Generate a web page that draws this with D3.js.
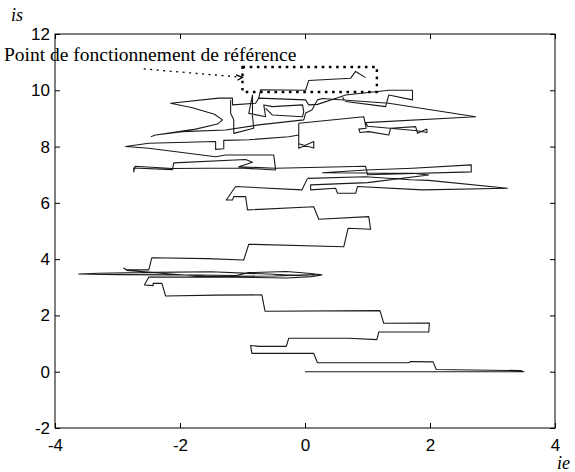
<!DOCTYPE html>
<html>
<head>
<meta charset="utf-8">
<script src="https://cdn.jsdelivr.net/npm/d3@7"></script>
<style>
	body { margin: 0; background: #fff; }
	svg { display: block; }
	.tick text { font-family: "Liberation Sans", Arial, sans-serif; font-size: 17px; fill: #000; }
	.tick line { stroke: #000; }
	.domain { stroke: none; }
</style>
</head>
<body>
<div id="chart"></div>
<script>
// axis ticks
var xTicks = [-4, -2, 0, 2, 4];
var yTicks = [-2, 0, 2, 4, 6, 8, 10, 12];

// trajectory (ie, is), piece by piece
var trajBottom = [
	[0, 0], [3.5, 0], [3.45, 0.04], [2.1, 0.08], [2.05, 0.35], [1.69, 0.36], [1.66, 0.32], [0.2, 0.32],
	[0.14, 0.65], [-0.85, 0.65], [-0.87, 0.93], [-0.73, 0.9], [-0.3, 0.9], [-0.26, 1.19], [0.7, 1.19],
	[1.15, 1.14], [1.18, 1.41], [1.98, 1.41], [1.99, 1.73], [1.26, 1.72], [1.2, 2.17], [-0.64, 2.15],
	[-0.69, 2.73], [-1.43, 2.72], [-2.23, 2.69], [-2.29, 3.14], [-2.43, 3.14], [-2.43, 3.06], [-2.57, 3.08]
];
var trajBundle = [
	[-2.57, 3.08], [-2.5, 3.36], [-1.2, 3.36], [-0.3, 3.33], [0.1, 3.38], [0.27, 3.44], [0.05, 3.5],
	[-0.3, 3.56], [-0.9, 3.52], [-1.1, 3.42], [-2.0, 3.44], [-3.0, 3.45], [-3.62, 3.47], [-3.3, 3.5],
	[-2.4, 3.53], [-1.5, 3.55], [-0.6, 3.47], [-0.1, 3.42], [0.15, 3.45], [-0.5, 3.4], [-1.6, 3.38],
	[-2.2, 3.48], [-2.85, 3.6], [-2.9, 3.68], [-2.85, 3.62], [-2.5, 3.62], [-2.45, 4.05], [-1.57, 4.02],
	[-0.98, 3.97], [-0.9, 4.53], [0.62, 4.44], [0.69, 5.1], [1.05, 5.06], [1.02, 5.51], [0.22, 5.42],
	[0.14, 5.86], [-0.92, 5.75], [-0.95, 6.22], [-1.14, 6.22], [-1.16, 6.1], [-1.26, 6.1], [-1.11, 6.58],
	[-0.05, 6.46], [0.04, 6.87]
];
var trajMiddle = [
	[0.04, 6.87], [0.97, 6.93], [1.69, 6.82], [1.98, 6.8], [3.24, 6.52], [1.88, 6.46], [0.84, 6.58],
	[0.81, 6.34], [0.52, 6.34], [0.49, 6.52], [0.09, 6.46], [0.09, 6.64], [1.0, 6.72], [1.98, 6.99],
	[1.72, 7.05], [0.28, 7.07], [0.97, 7.17], [1.72, 7.23], [2.66, 7.35], [2.66, 7.1], [1.0, 7.0],
	[0.97, 7.3], [-0.47, 7.23], [-1.06, 7.28], [-0.84, 7.44], [-0.95, 7.54], [-2.1, 7.42], [-2.12, 7.18],
	[-2.74, 7.24], [-2.74, 7.1], [-2.72, 7.3], [-2.12, 7.22], [-1.06, 7.24], [-0.47, 7.17]
];
var trajLeft = [
	[-0.47, 7.17], [-0.5, 7.7], [-1.27, 7.7], [-1.43, 7.64], [-2.5, 7.94], [-2.87, 8.0], [-2.5, 8.12],
	[-1.43, 8.18], [-1.43, 7.9], [-1.3, 7.92], [-1.3, 8.22], [-0.9, 8.24], [-0.26, 8.35], [-0.1, 8.41],
	[-0.1, 7.94], [0.14, 8.18], [0.14, 7.95], [-0.1, 8.1], [-0.1, 8.83]
];
var trajUpper = [
	[-0.1, 8.83], [0.94, 9.06], [0.98, 8.65], [0.86, 8.62], [0.88, 8.5], [1.02, 8.53], [1.34, 8.41],
	[1.37, 8.65], [1.77, 8.71], [1.8, 8.47], [1.95, 8.62], [1.95, 8.5], [1.8, 8.56], [1.0, 8.72],
	[0.97, 8.85], [2.73, 9.06], [1.34, 9.54], [0.28, 9.71], [0.2, 9.66], [0.11, 9.3], [0.01, 9.19],
	[-0.02, 8.95], [-0.74, 8.77], [-1.27, 8.59], [-1.96, 8.53], [-2.39, 8.41], [-2.46, 8.36], [-2.39, 8.41],
	[-1.75, 8.62], [-1.4, 8.8], [-1.32, 8.95], [-1.45, 9.15], [-1.8, 9.38], [-2.15, 9.54], [-1.38, 9.72],
	[-1.16, 9.72], [-1.16, 9.48], [-0.79, 9.54], [-0.74, 9.72], [0.01, 9.66], [0.06, 9.48], [0.2, 9.5],
	[0.57, 9.77], [0.65, 9.83], [1.34, 10.0], [1.72, 10.0], [1.72, 9.66], [1.34, 9.83], [1.29, 9.42],
	[0.65, 9.6], [0.6, 9.75]
];
var trajInner = [
	[-1.19, 9.66], [-1.19, 9.18], [-1.14, 8.95], [-1.14, 8.47], [-0.82, 8.65], [-0.84, 9.06], [-0.84, 9.83],
	[-0.9, 9.18], [-0.63, 9.06], [-0.66, 9.48], [-0.52, 9.42], [-0.04, 9.48], [-0.02, 9.24], [-0.04, 9.06],
	[-0.52, 9.12], [-0.63, 9.36]
];
var trajFinal = [
	[-0.74, 9.72], [-0.71, 10.02], [0.01, 10.0], [0.06, 10.35], [0.73, 10.43], [0.81, 10.67], [0.97, 10.45]
];
var trajPieces = [trajBottom, trajBundle, trajMiddle, trajLeft, trajUpper, trajInner, trajFinal];

// reference operating point box and arrow
var refBoxIe = [-1.0, 1.15];
var refBoxIs = [9.94, 10.83];
var arrowIe = [-2.58, -1.0];
var arrowIs = [10.76, 10.46];
var annotation = "Point de fonctionnement de référence";

var W = 575, H = 472;
var margin = {top: 34, right: 20, bottom: 44, left: 55};

var svg = d3.select("#chart").append("svg")
	.attr("width", W)
	.attr("height", H);

var x = d3.scaleLinear().domain([-4, 4]).range([margin.left, W - margin.right]);
var y = d3.scaleLinear().domain([-2, 12]).range([H - margin.bottom, margin.top]);

var fmt = function(d) { return d < 0 ? "-" + Math.abs(d) : String(d); };

// axes, ticks inward like matlab
svg.append("g")
	.attr("transform", "translate(0," + y(-2) + ")")
	.call(d3.axisBottom(x).tickValues(xTicks).tickSizeInner(-5).tickSizeOuter(0).tickPadding(11).tickFormat(fmt));
svg.append("g")
	.attr("transform", "translate(0," + y(12) + ")")
	.call(d3.axisTop(x).tickValues(xTicks).tickSizeInner(-5).tickSizeOuter(0).tickFormat(""));
svg.append("g")
	.attr("transform", "translate(" + x(-4) + ",0)")
	.call(d3.axisLeft(y).tickValues(yTicks).tickSizeInner(-5).tickSizeOuter(0).tickPadding(5).tickFormat(fmt));
svg.append("g")
	.attr("transform", "translate(" + x(4) + ",0)")
	.call(d3.axisRight(y).tickValues(yTicks).tickSizeInner(-5).tickSizeOuter(0).tickFormat(""));

svg.append("rect")
	.attr("x", x(-4)).attr("y", y(12))
	.attr("width", x(4) - x(-4)).attr("height", y(-2) - y(12))
	.attr("fill", "none").attr("stroke", "#000").attr("stroke-width", 1);

// trajectory
var line = d3.line()
	.x(function(d) { return x(d[0]); })
	.y(function(d) { return y(d[1]); });

svg.selectAll("path.traj")
	.data(trajPieces)
	.enter().append("path")
	.attr("class", "traj")
	.attr("d", line)
	.attr("fill", "none")
	.attr("stroke", "#1a1a1a")
	.attr("stroke-width", 1.1)
	.attr("stroke-linejoin", "round");

// dotted reference box
svg.append("rect")
	.attr("x", x(refBoxIe[0])).attr("y", y(refBoxIs[1]))
	.attr("width", x(refBoxIe[1]) - x(refBoxIe[0]))
	.attr("height", y(refBoxIs[0]) - y(refBoxIs[1]))
	.attr("fill", "none").attr("stroke", "#000")
	.attr("stroke-width", 2.4).attr("stroke-dasharray", "2.6,4.6");

// dotted arrow
svg.append("line")
	.attr("x1", x(arrowIe[0])).attr("y1", y(arrowIs[0]))
	.attr("x2", x(arrowIe[1])).attr("y2", y(arrowIs[1]))
	.attr("stroke", "#000").attr("stroke-width", 1.3).attr("stroke-dasharray", "2,4.5");

var tx = x(arrowIe[1]), ty = y(arrowIs[1]);
svg.append("path")
	.attr("d", "M" + (tx - 6.5) + "," + (ty - 2.5) + "L" + tx + "," + ty + "L" + (tx - 5) + "," + (ty + 3))
	.attr("fill", "none").attr("stroke", "#000").attr("stroke-width", 1.2);

// texts
svg.append("text")
	.attr("x", 4).attr("y", 61)
	.style("font-family", "'Liberation Serif', 'Times New Roman', serif")
	.style("font-size", "19.5px")
	.text(annotation);

svg.append("text")
	.attr("x", 11).attr("y", 21)
	.style("font-family", "'Liberation Serif', 'Times New Roman', serif")
	.style("font-style", "italic")
	.style("font-size", "18px")
	.text("is");

svg.append("text")
	.attr("x", 557).attr("y", 469)
	.style("font-family", "'Liberation Serif', 'Times New Roman', serif")
	.style("font-style", "italic")
	.style("font-size", "18px")
	.text("ie");
</script>
</body>
</html>
